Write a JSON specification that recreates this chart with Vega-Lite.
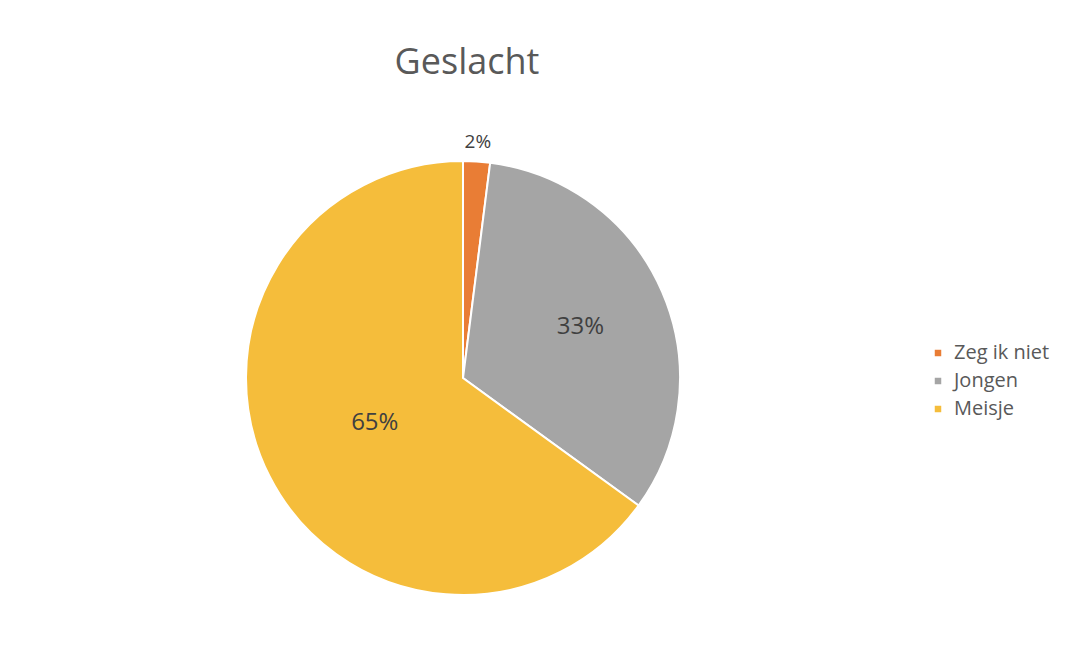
{
  "$schema": "https://vega.github.io/schema/vega-lite/v6.json",
  "width": 908,
  "height": 562,
  "padding": {"left": 9, "top": 45, "right": 0, "bottom": 0},
  "background": "white",
  "title": {
    "text": "Geslacht",
    "fontSize": 36,
    "font": "Open Sans",
    "fontWeight": "normal",
    "color": "#595959",
    "anchor": "middle",
    "frame": "group",
    "offset": 15,
    "dx": 4
  },
  "config": {
    "view": {"stroke": null},
    "font": "Open Sans"
  },
  "data": {
    "values": [
      {"Geslacht": "Zeg ik niet", "aandeel": 0.02},
      {"Geslacht": "Jongen", "aandeel": 0.33},
      {"Geslacht": "Meisje", "aandeel": 0.65}
    ]
  },
  "encoding": {
    "theta": {"field": "aandeel", "type": "quantitative", "stack": true},
    "order": {"field": "aandeel", "sort": "ascending"},
    "color": {
      "field": "Geslacht",
      "type": "nominal",
      "scale": {
        "domain": ["Zeg ik niet", "Jongen", "Meisje"],
        "range": ["#E97D35", "#A5A5A5", "#F5BD3B"]
      },
      "legend": {
        "title": null,
        "orient": "none",
        "legendX": 919,
        "legendY": 246,
        "symbolType": "square",
        "symbolSize": 42,
        "symbolStrokeWidth": 0,
        "labelFontSize": 20,
        "labelColor": "#595959",
        "labelFont": "Open Sans",
        "rowPadding": 8,
        "labelOffset": 6
      }
    }
  },
  "layer": [
    {
      "mark": {"type": "arc", "radius": 217, "stroke": "white", "strokeWidth": 2}
    },
    {
      "mark": {
        "type": "text",
        "font": "Open Sans",
        "fontSize": {"expr": "datum.Geslacht === 'Zeg ik niet' ? 19 : 24"},
        "radius": {"expr": "datum.Geslacht === 'Zeg ik niet' ? 236 : datum.Geslacht === 'Jongen' ? 128 : 99"}
      },
      "encoding": {
        "text": {"field": "aandeel", "type": "quantitative", "format": ".0%"},
        "color": {"value": "#404040"}
      }
    }
  ]
}
